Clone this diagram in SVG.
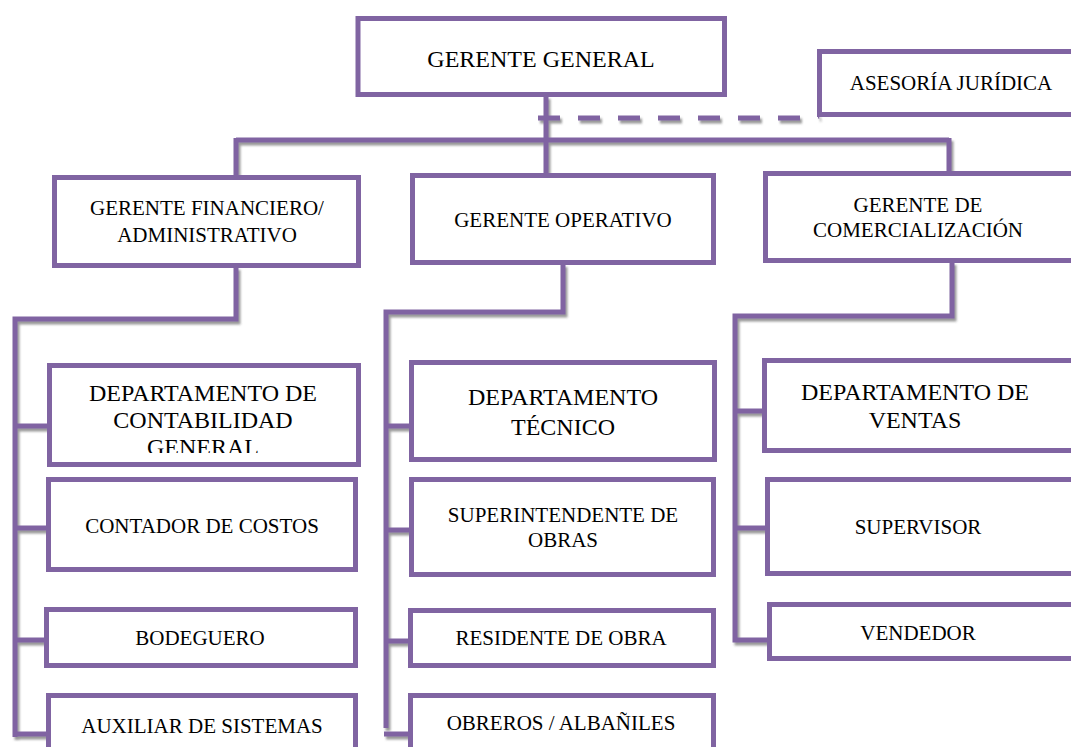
<svg xmlns="http://www.w3.org/2000/svg" width="1071" height="747" viewBox="0 0 1071 747">
<style>
.box{fill:#fff;stroke:#8064A2;stroke-width:5}
.ln{fill:none;stroke:#8064A2;stroke-width:5;stroke-linecap:butt}
.t{font-family:"Liberation Serif","Times New Roman",serif;font-size:21px;fill:#000;text-anchor:middle}
.b{font-size:24px}
</style>
<defs>
<filter id="sh" x="-5%" y="-5%" width="110%" height="110%">
<feDropShadow dx="2" dy="3" stdDeviation="1.2" flood-color="#555" flood-opacity="0.6"/>
</filter>
<clipPath id="cc"><rect x="50" y="366" width="308" height="87"/></clipPath>
</defs>
<rect width="1071" height="747" fill="#fff"/>
<g id="connectors" filter="url(#sh)">
<path class="ln" d="M546 96V174M236 140H949M236 138V177M949 138V172"/>
<path class="ln" d="M538 118H808L819 116" stroke-dasharray="22,18"/>
<path class="ln" d="M236 267V319H15V737M15 426H52M15 528H48M15 640H46M15 734H48"/>
<path class="ln" d="M563 264V312H386V728M386 426H411M386 530H411M386 641H410M384 734H410"/>
<path class="ln" d="M952 262V316H735V640H768M735 411H764M735 528H767"/>
</g>
<g id="gerente-general"><rect class="box" x="358" y="18.5" width="366.5" height="76"/><text class="t b" x="541" y="67">GERENTE GENERAL</text></g>
<g id="asesoria"><rect class="box" x="819.5" y="51.5" width="262" height="63"/><text class="t" x="951" y="90">ASESORÍA JURÍDICA</text></g>
<g id="gerente-financiero"><rect class="box" x="54.5" y="177.5" width="304" height="88"/><text class="t" x="207" y="215">GERENTE FINANCIERO/</text><text class="t" x="207" y="242">ADMINISTRATIVO</text></g>
<g id="gerente-operativo"><rect class="box" x="412.5" y="175.5" width="301" height="87"/><text class="t" x="563" y="227">GERENTE OPERATIVO</text></g>
<g id="gerente-comercializacion"><rect class="box" x="765.5" y="173.5" width="316" height="87"/><text class="t" x="918" y="212">GERENTE DE</text><text class="t" x="918" y="237">COMERCIALIZACIÓN</text></g>
<g id="dep-contabilidad"><rect class="box" x="49.5" y="365.5" width="309" height="99"/><g clip-path="url(#cc)"><text class="t b" x="203" y="401">DEPARTAMENTO DE</text><text class="t b" x="203" y="428">CONTABILIDAD</text><text class="t b" x="203" y="455">GENERAL</text></g></g>
<g id="contador"><rect class="box" x="48.5" y="479.5" width="307" height="90"/><text class="t" x="202" y="533">CONTADOR DE COSTOS</text></g>
<g id="bodeguero"><rect class="box" x="46.5" y="609.5" width="309" height="56"/><text class="t" x="200" y="645">BODEGUERO</text></g>
<g id="auxiliar"><rect class="box" x="48.5" y="695.5" width="307" height="70"/><text class="t" x="202" y="733">AUXILIAR DE SISTEMAS</text></g>
<g id="dep-tecnico"><rect class="box" x="411.5" y="362.5" width="303" height="97"/><text class="t b" x="563" y="405">DEPARTAMENTO</text><text class="t b" x="563" y="435">TÉCNICO</text></g>
<g id="superintendente"><rect class="box" x="411.5" y="479.5" width="302" height="95"/><text class="t" x="563" y="522">SUPERINTENDENTE DE</text><text class="t" x="563" y="547">OBRAS</text></g>
<g id="residente"><rect class="box" x="410.5" y="610.5" width="303" height="55"/><text class="t" x="561" y="645">RESIDENTE DE OBRA</text></g>
<g id="obreros"><rect class="box" x="410.5" y="695.5" width="303" height="70"/><text class="t" x="561" y="730">OBREROS / ALBAÑILES</text></g>
<g id="dep-ventas"><rect class="box" x="764.5" y="360.5" width="317" height="90"/><text class="t b" x="915" y="400">DEPARTAMENTO DE</text><text class="t b" x="915" y="428">VENTAS</text></g>
<g id="supervisor"><rect class="box" x="767.5" y="479.5" width="314" height="94"/><text class="t" x="918" y="534">SUPERVISOR</text></g>
<g id="vendedor"><rect class="box" x="769.5" y="604.5" width="312" height="54"/><text class="t" x="918" y="640">VENDEDOR</text></g>
</svg>
